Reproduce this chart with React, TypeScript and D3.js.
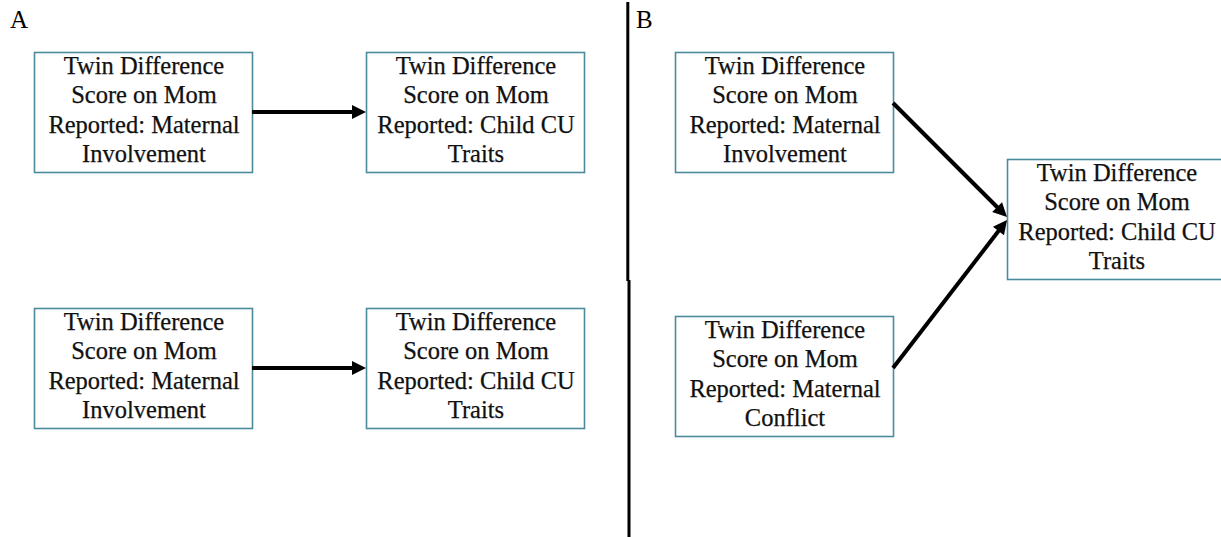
import React from "react";
import * as d3 from "d3";

const W = 1221;
const H = 537;

const panelLabels = ["A", "B"];
const lineA1 = ["Twin Difference", "Score on Mom", "Reported: Maternal", "Involvement"];
const lineCU = ["Twin Difference", "Score on Mom", "Reported: Child CU", "Traits"];
const lineConflict = ["Twin Difference", "Score on Mom", "Reported: Maternal", "Conflict"];

// nodes: id, text lines, column, top
const nodeIds = ["a1", "a2", "a3", "a4", "b1", "b2", "b3"];
const nodeText = [lineA1, lineCU, lineA1, lineCU, lineA1, lineConflict, lineCU];
const nodeCol = [0, 1, 0, 1, 2, 2, 3];
const nodeTop = [52, 52, 308, 308, 52, 316, 159];
const edgesFrom = ["a1", "a3", "b1", "b2"];
const edgesTo = ["a2", "a4", "b3", "b3"];

const colX = d3.scaleOrdinal<number, number>().domain([0, 1, 2, 3]).range([34, 366, 675, 1007]);
const BOX_W = 218;
const BOX_H = 120;
const LINE_H = 29.4;
const FONT = "'Liberation Serif', 'Times New Roman', serif";

export default function App() {
  const nodes = nodeIds.map((id, i) => ({
    id,
    lines: nodeText[i],
    x: colX(nodeCol[i]),
    y: nodeTop[i],
  }));
  const byId = new Map(nodes.map((n) => [n.id, n]));

  const edges = edgesFrom.map((f, i) => {
    const s = byId.get(f)!;
    const t = byId.get(edgesTo[i])!;
    let x1 = s.x + BOX_W;
    let y1 = s.y + BOX_H / 2;
    let x2 = t.x;
    let y2 = t.y + BOX_H / 2;
    if (s.id === "b1") { y1 = s.y + 51; y2 = t.y + 58; }
    if (s.id === "b2") { y1 = s.y + 52; y2 = t.y + 61; }
    return { x1, y1, x2, y2 };
  });

  const line = d3.line();
  const arrowPath = (e: { x1: number; y1: number; x2: number; y2: number }) => {
    const ang = Math.atan2(e.y2 - e.y1, e.x2 - e.x1);
    const headL = 14;
    const headW = 7;
    const bx = e.x2 - headL * Math.cos(ang);
    const by = e.y2 - headL * Math.sin(ang);
    const px = -Math.sin(ang);
    const py = Math.cos(ang);
    return {
      shaft: line([[e.x1, e.y1], [bx + 2 * Math.cos(ang), by + 2 * Math.sin(ang)]])!,
      head: line([
        [e.x2, e.y2],
        [bx + headW * px, by + headW * py],
        [bx - headW * px, by - headW * py],
      ])! + "Z",
    };
  };

  return (
    <svg width={W} height={H} style={{ position: "absolute", left: 0, top: 0, background: "#fff" }}>
      <rect x={0} y={0} width={W} height={H} fill="#fff" />
      <text x={10} y={28} fontFamily={FONT} fontSize={25} fill="#000">{panelLabels[0]}</text>
      <text x={636} y={28} fontFamily={FONT} fontSize={25} fill="#000">{panelLabels[1]}</text>
      <line x1={627.8} y1={2} x2={627.8} y2={281} stroke="#000" strokeWidth={3} />
      <line x1={629} y1={280} x2={629} y2={H} stroke="#000" strokeWidth={3} />
      {nodes.map((n) => (
        <g key={n.id}>
          <rect x={n.x + 0.5} y={n.y + 0.5} width={BOX_W} height={BOX_H} fill="#fff" stroke="#4a8b9c" strokeWidth={1.6} />
          {n.lines.map((l, j) => (
            <text
              key={j}
              x={n.x + BOX_W / 2 + 1}
              y={n.y + 22 + j * LINE_H}
              textAnchor="middle"
              fontFamily={FONT}
              fontSize={24.5}
              fill="#111"
              stroke="#111"
              strokeWidth={0.25}
            >
              {l}
            </text>
          ))}
        </g>
      ))}
      {edges.map((e, i) => {
        const p = arrowPath(e);
        return (
          <g key={i}>
            <path d={p.shaft} stroke="#000" strokeWidth={4} fill="none" />
            <path d={p.head} fill="#000" />
          </g>
        );
      })}
    </svg>
  );
}
